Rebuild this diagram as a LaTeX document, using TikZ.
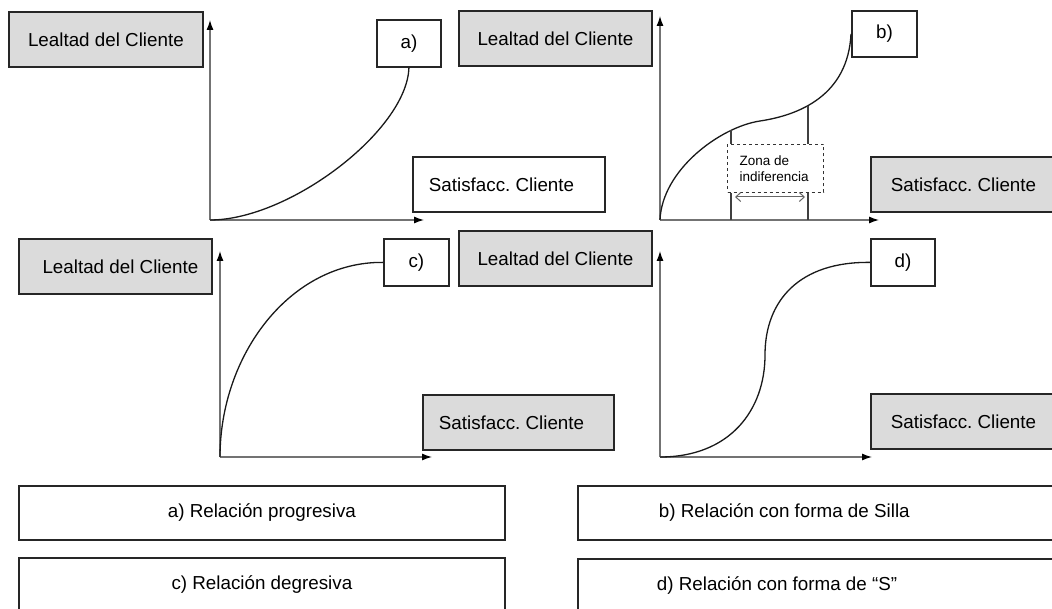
\documentclass[tikz,border=0pt]{standalone}
\usepackage{fontspec}
\setmainfont{Liberation Sans}
\usetikzlibrary{arrows.meta}
\frenchspacing
\begin{document}
\begin{tikzpicture}[x=1pt,y=-1pt,
  every node/.style={font=\fontsize{18.8}{22}\selectfont, inner sep=0pt},
  frame/.style={draw=black!85, line width=1.8pt},
  ybox/.style={frame, fill=black!14, anchor=north west, minimum width=193pt, minimum height=55pt},
  tagbox/.style={frame, fill=white, anchor=north west, minimum width=64pt, minimum height=47pt},
  xbox/.style={frame, anchor=north west, minimum height=55pt, inner xsep=16pt, text width=160pt, align=flush left},
  relbox/.style={frame, fill=white, anchor=north west, minimum height=54pt},
  axis/.style={draw=black!55, line width=1.2pt, -{Latex[length=10pt,width=7pt,color=black]}},
  curve/.style={draw=black!90, line width=1.3pt},
  guide/.style={draw=black!75, line width=1.2pt},
]
\useasboundingbox (0,0) rectangle (1052,609);
\clip (0,0) rectangle (1052,609);

% ---------- a) progressive ----------
\node[ybox, minimum width=194pt] (ya) at (8,11) {Lealtad del Cliente};
\node[tagbox] (ta) at (376,19) {a)};
\node[xbox, fill=white, minimum width=192pt] (xa) at (412,156) {Satisfacc. Cliente};
\coordinate (oa) at (210,220);
\coordinate (oa-y) at (210,20);
\coordinate (oa-x) at (424,220);
\draw[axis] (oa) -- (oa-y);
\draw[axis] (oa) -- (oa-x);
\draw[curve] (oa) .. controls (290,220) and (407,130) .. (ta.south);

% ---------- b) saddle ----------
\node[ybox] (yb) at (458,10) {Lealtad del Cliente};
\node[tagbox, minimum width=65pt, minimum height=46pt] (tb) at (851,10) {b)};
\node[xbox, fill=black!14, minimum width=200pt] (xb) at (870,156) {Satisfacc. Cliente};
\coordinate (ob) at (660,220);
\coordinate (ob-y) at (660,16);
\coordinate (ob-x) at (879,220);
\draw[axis] (ob) -- (ob-y);
\draw[axis] (ob) -- (ob-x);
\coordinate (bmid) at (760,121);
\draw[curve] (ob) .. controls (662,170) and (720,127) .. (bmid)
  .. controls (800,115) and (848,95) .. (tb.west);
\node[draw=black!80, dashed, line width=1pt, anchor=north west,
      minimum width=96pt, minimum height=48pt, inner xsep=12pt,
      text width=72pt, align=flush left,
      font=\fontsize{13.5}{16}\selectfont] (zona) at (727,144) {Zona de\\indiferencia};
\coordinate (zl-top) at (731,130);
\coordinate (zl-bot) at (731,220);
\coordinate (zr-top) at (808,106);
\coordinate (zr-bot) at (808,220);
\draw[guide] (zl-top) -- (zl-top |- zona.north);
\draw[guide] (zl-top |- zona.south) -- (zl-bot);
\draw[guide] (zr-top) -- (zr-top |- zona.north);
\draw[guide] (zr-top |- zona.south) -- (zr-bot);
\coordinate (zw) at (735,197);
\coordinate (ze) at (805,197);
\draw[draw=black!60, line width=1pt,
  {Straight Barb[length=5pt,width=9pt]}-{Straight Barb[length=5pt,width=9pt]}] (zw) -- (ze);

% ---------- c) degressive ----------
\node[ybox] (yc) at (18,238) {\hspace{10pt}Lealtad del Cliente};
\node[tagbox, minimum width=65pt] (tc) at (383,238) {c)};
\node[xbox, fill=black!14, minimum width=191pt, text width=159pt] (xc) at (422,394) {Satisfacc. Cliente};
\coordinate (oc) at (220,457);
\coordinate (oc-y) at (220,251);
\coordinate (oc-x) at (432,457);
\draw[axis] (oc) -- (oc-y);
\draw[axis] (oc) -- (oc-x);
\draw[curve] (oc) .. controls (220,355) and (290,261.5) .. (tc.west);

% ---------- d) S-shaped ----------
\node[ybox] (yd) at (458,230) {Lealtad del Cliente};
\node[tagbox] (td) at (870,238) {d)};
\node[xbox, fill=black!14, minimum width=200pt] (xd) at (870,393) {Satisfacc. Cliente};
\coordinate (od) at (660,457);
\coordinate (od-y) at (660,251);
\coordinate (od-x) at (872,457);
\draw[axis] (od) -- (od-y);
\draw[axis] (od) -- (od-x);
\coordinate (dmid) at (765,355);
\draw[curve] (od) .. controls (730,457) and (765,410) .. (dmid)
  .. controls (765,300) and (800,261.5) .. (td.west);

% ---------- legend ----------
\node[relbox, minimum width=486pt] (ra) at (18,485) {a) Relación progresiva};
\node[relbox, inner xsep=81pt, text width=338pt, align=flush left] (rb) at (577,485) {b) Relación con forma de Silla};
\node[relbox, minimum width=486pt] (rc) at (18,557) {c) Relación degresiva};
\node[relbox, inner xsep=79pt, text width=342pt, align=flush left] (rd) at (577,558) {d) Relación con forma de “S”};
\end{tikzpicture}
\end{document}
